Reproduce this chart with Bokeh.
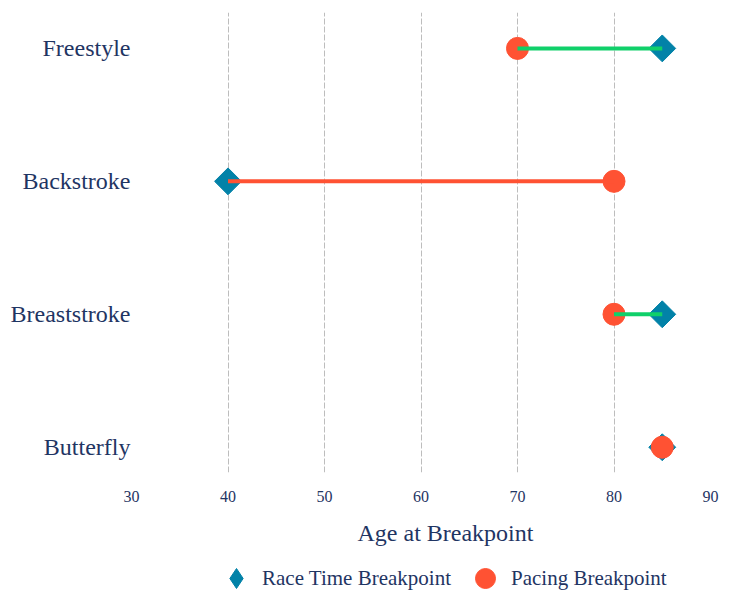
from bokeh.plotting import figure
from bokeh.layouts import column
from bokeh.models import (Range1d, FixedTicker, Legend, LegendItem, Title,
                          ColumnDataSource)
from bokeh.embed import file_html
from bokeh.resources import INLINE
import math

# Breakpoint ages by stroke (top to bottom as listed)
strokes = ["Freestyle", "Backstroke", "Breaststroke", "Butterfly"]
race_time_breakpoint = [85, 40, 85, 85]
pacing_breakpoint = [70, 80, 80, 85]
x_ticks = [30, 40, 50, 60, 70, 80, 90]

TEXT = "#1f3563"
FONT = "Liberation Serif"
BLUE = "#0282a8"
ORANGE = "#ff5233"
GREEN = "#10d06a"

n = len(strokes)
ypos = [n - 1 - i for i in range(n)]
seg_colors = [GREEN if r > pc else ORANGE
              for r, pc in zip(race_time_breakpoint, pacing_breakpoint)]

src = ColumnDataSource(dict(
    y=ypos, race=race_time_breakpoint, pace=pacing_breakpoint, seg=seg_colors,
))

p = figure(frame_width=579, frame_height=460, output_backend="svg",
           toolbar_location=None,
           x_range=Range1d(30, 90), y_range=Range1d(-0.19, 3.27),
           min_border_left=131, min_border_right=19, min_border_top=12,
           min_border_bottom=0)
p.outline_line_color = None

# markers: race-time diamonds, pacing circles on top, connector over both
p.scatter("race", "y", source=src, marker="square", angle=math.pi / 4,
          size=19, fill_color=BLUE, line_color=BLUE)
p.scatter("pace", "y", source=src, marker="circle", size=22,
          fill_color=ORANGE, line_color=ORANGE)
p.segment(x0="pace", y0="y", x1="race", y1="y", source=src,
          line_color="seg", line_width=4)

# grid
p.ygrid.grid_line_color = None
p.xgrid.ticker = FixedTicker(ticks=x_ticks[1:])
p.xgrid.grid_line_color = "#bdbdbd"
p.xgrid.grid_line_dash = "6 2"
p.xgrid.grid_line_width = 1

# x axis
xa = p.xaxis[0]
xa.ticker = FixedTicker(ticks=x_ticks)
xa.axis_line_color = None
xa.major_tick_line_color = None
xa.minor_tick_line_color = None
xa.major_tick_out = 0
xa.major_tick_in = 0
xa.major_label_standoff = 18
xa.major_label_text_font = FONT
xa.major_label_text_font_size = "16px"
xa.major_label_text_color = TEXT

# y axis with stroke names
ya = p.yaxis[0]
ya.ticker = FixedTicker(ticks=ypos)
ya.major_label_overrides = {y: s for y, s in zip(ypos, strokes)}
ya.axis_line_color = None
ya.major_tick_line_color = None
ya.minor_tick_line_color = None
ya.major_tick_out = 0
ya.major_tick_in = 0
ya.major_label_standoff = 1
ya.major_label_text_font = FONT
ya.major_label_text_font_size = "24px"
ya.major_label_text_color = TEXT

# axis title
p.add_layout(Title(text="Age at Breakpoint", align="left", offset=226,
                   text_font=FONT, text_font_size="24px",
                   text_font_style="normal", text_color=TEXT,
                   standoff=27), "below")

# legend strip underneath the chart (its ranges keep the key glyphs out of view)
leg = figure(width=729, height=52, output_backend="svg", toolbar_location=None,
             x_axis_type=None, y_axis_type=None, min_border=0,
             x_range=Range1d(0, 1), y_range=Range1d(0, 1))
leg.outline_line_color = None
leg.grid.visible = False
key_race = leg.scatter("race", "y", source=src, marker="diamond",
                       fill_color=BLUE, line_color=BLUE)
key_pace = leg.scatter("pace", "y", source=src, marker="circle",
                       fill_color=ORANGE, line_color=ORANGE)
legend = Legend(items=[
    LegendItem(label="Race Time Breakpoint", renderers=[key_race], index=0),
    LegendItem(label="Pacing Breakpoint", renderers=[key_pace], index=0),
], orientation="horizontal", location=(80, 8),
    glyph_width=50, glyph_height=50, label_standoff=1, spacing=9,
    padding=0, margin=0, border_line_color=None, background_fill_alpha=0,
    label_text_font=FONT, label_text_font_size="21px", label_text_color=TEXT)
leg.add_layout(legend)

open("out.html", "w").write(file_html(column(p, leg, spacing=0), INLINE))
